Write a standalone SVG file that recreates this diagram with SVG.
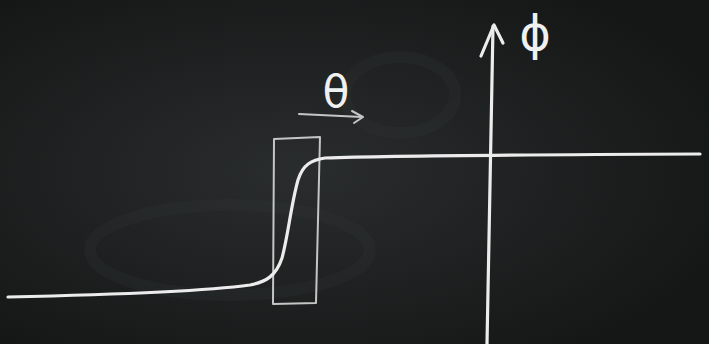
<svg xmlns="http://www.w3.org/2000/svg" width="709" height="344" viewBox="0 0 709 344">
<defs>
<radialGradient id="haze" cx="0.42" cy="0.5" r="0.65">
<stop offset="0" stop-color="#2a2d2d"/>
<stop offset="1" stop-color="#151717"/>
</radialGradient>
<style>
.chalk{fill:none;stroke:#ececec;stroke-width:3.2;stroke-linecap:round;stroke-linejoin:round}
.thin{fill:none;stroke:#c4c6c6;stroke-width:2;stroke-linecap:round;stroke-linejoin:round}
.lbl{font-family:"DejaVu Sans",sans-serif;fill:#f0f0f0}
.ghost{fill:none;stroke:#3a3d3d;stroke-width:12;opacity:0.18}
</style>
</defs>
<rect width="709" height="344" fill="url(#haze)"/>
<g id="smudges">
<ellipse class="ghost" cx="230" cy="250" rx="140" ry="45"/>
<ellipse class="ghost" cx="400" cy="95" rx="55" ry="38"/>
</g>
<g id="window">
<path class="thin" d="M274,139 L320,137 L316,303 L273,304 Z"/>
</g>
<g id="curve">
<path class="chalk" d="M8,297 C100,295 200,292 250,285 C266,282 276,276 282,258 C288,236 291,205 298,180 C303,164 312,160 325,158 C380,156 450,155 700,154"/>
</g>
<g id="connectors">
<path class="chalk" d="M487,344 L493,26"/>
<path class="chalk" d="M481,56 L494,25 L503,43"/>
<path class="thin" d="M299,114 L362,117"/>
<path class="thin" d="M352,111 L363,117 L354,123"/>
</g>
<g id="theta">
<text class="lbl" x="336" y="107" font-size="44" text-anchor="middle">θ</text>
</g>
<g id="phi">
<text class="lbl" x="535" y="50" font-size="48" text-anchor="middle">ϕ</text>
</g>
</svg>
